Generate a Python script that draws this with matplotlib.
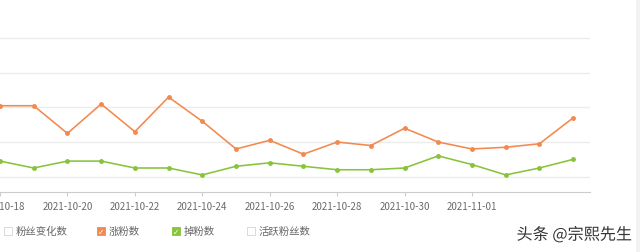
import numpy as np
import matplotlib.pyplot as plt
import matplotlib.patheffects as pe
from matplotlib.patches import Rectangle

plt.rcParams['font.family'] = ['Noto Sans CJK SC', 'DejaVu Sans']

# data
dates = ['2021-10-18', '2021-10-19', '2021-10-20', '2021-10-21', '2021-10-22',
         '2021-10-23', '2021-10-24', '2021-10-25', '2021-10-26', '2021-10-27',
         '2021-10-28', '2021-10-29', '2021-10-30', '2021-10-31', '2021-11-01',
         '2021-11-02', '2021-11-03', '2021-11-04']
gain = [41, 41, 25, 42, 26, 46, 32, 16, 21, 13, 20, 18, 28, 20, 16, 17, 19, 34]
loss = [9, 5, 9, 9, 5, 5, 1, 6, 8, 6, 4, 4, 5, 12, 7, 1, 5, 10]
tick_idx = [0, 2, 4, 6, 8, 10, 12, 14]
legend_labels = ['粉丝变化数', '涨粉数', '掉粉数', '活跃粉丝数']
legend_on = [False, True, True, False]

orange = '#f2894f'
green = '#88c43a'
legend_colors = [None, orange, green, None]

fig = plt.figure(figsize=(6.4, 2.53), dpi=100)
W, H = 640, 253
ax = fig.add_axes([0, 1 - 192.7 / H, 590 / W, 192.7 / H])

x = np.arange(len(dates))
ax.plot(x, gain, color=orange, lw=1.15, marker='o', ms=2.5, zorder=3)
ax.plot(x, loss, color=green, lw=1.15, marker='o', ms=2.5, zorder=3)

ax.set_xlim(0, 17.5)
ax.set_ylim(-8.7, 102.7)
ax.set_yticks([0, 20, 40, 60, 80])
ax.yaxis.grid(True, color='#ececec', lw=1)
ax.tick_params(axis='y', left=False, labelleft=False)
ax.set_xticks(tick_idx)
ax.set_xticklabels([dates[i] for i in tick_idx], fontsize=7, color='#6a6a6a')
ax.tick_params(axis='x', length=3, color='#cccccc', pad=4)
for s in ['top', 'right', 'left']:
    ax.spines[s].set_visible(False)
ax.spines['bottom'].set_color('#cccccc')

# legend drawn as checkboxes
box_x = [4, 97, 172, 247]
ly = 232
for bx, lab, on, c in zip(box_x, legend_labels, legend_on, legend_colors):
    bw = 7.5
    if on:
        fig.patches.append(Rectangle((bx / W, 1 - (ly + bw / 2) / H), bw / W, bw / H,
                                     transform=fig.transFigure, facecolor=c,
                                     edgecolor=c, lw=0.6))
        fig.text((bx + bw / 2) / W, 1 - (ly + 0.5) / H, '✓', fontsize=5.5, color='white',
                 ha='center', va='center', family='DejaVu Sans', weight='bold')
    else:
        fig.patches.append(Rectangle((bx / W, 1 - (ly + bw / 2) / H), bw / W, bw / H,
                                     transform=fig.transFigure, facecolor='white',
                                     edgecolor='#d4d4d4', lw=0.6))
    fig.text((bx + 12) / W, 1 - ly / H, lab, fontsize=7.5, color='#666666',
             ha='left', va='center')

# right gray strip
fig.patches.append(Rectangle((636 / W, 0), 4 / W, 1, transform=fig.transFigure,
                             facecolor='#f2f2f2', edgecolor='none'))

# watermark
fig.text(632 / W, 1 - 236 / H, '头条 @宗熙先生', fontsize=11.6, color='#333333',
         ha='right', va='center',
         path_effects=[pe.withStroke(linewidth=2, foreground='white')])

fig.savefig('out.png', dpi=100)
